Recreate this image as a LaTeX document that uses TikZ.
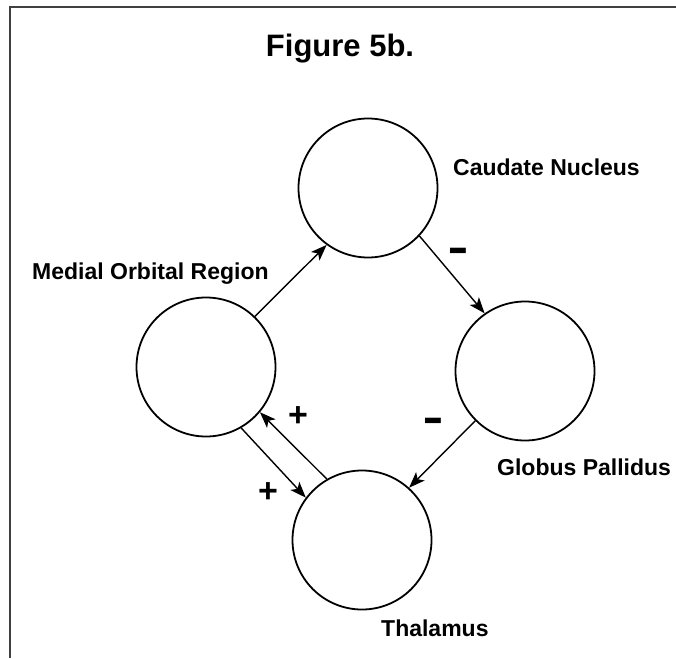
\documentclass[tikz,border=0pt]{standalone}
\usepackage{fontspec}
\setmainfont{Liberation Sans}
\usetikzlibrary{arrows.meta}

\begin{document}
\begin{tikzpicture}[x=1pt, y=-1pt,
  region/.style={circle, draw, line width=1.8pt, minimum size=139pt, inner sep=0pt},
  lbl/.style={anchor=base west, inner sep=0pt, font=\fontsize{23}{27}\selectfont\bfseries},
  plussgn/.style={inner sep=0pt, font=\fontsize{34}{36}\selectfont\bfseries},
  minussgn/.style={inner sep=0pt, yscale=1.7, transform shape, font=\fontsize{32}{34}\selectfont\bfseries},
  link/.style={line width=1.4pt, -{Stealth[length=16pt, width=12pt, inset=4pt]}}]
\useasboundingbox (0,0) rectangle (676,658);
\draw[line width=2pt, black!75] (10,658) -- (10,7) -- (676,7);
\node[anchor=base, inner sep=0pt, font=\fontsize{31}{35}\selectfont\bfseries] (title) at (340,57) {Figure 5b.};
% the four regions
\node[region] (caudate) at (368,188) {};
\node[region] (medial) at (206,367) {};
\node[region] (globus) at (525,371) {};
\node[region] (thalamus) at (362,540) {};
\node[lbl] (caudatelbl) at (453,175) {Caudate Nucleus};
\node[lbl] (mediallbl) at (32,279) {Medial Orbital Region};
\node[lbl] (globuslbl) at (497,475) {Globus Pallidus};
\node[lbl] (thalamuslbl) at (381,636) {Thalamus};
% connections
\draw[link] (medial.46) -- (caudate.234);
\draw[link] (caudate.317) -- (globus.125);
\draw[link] (globus.225) -- (thalamus.48);
\draw[link] (thalamus.120) -- (medial.320);
\draw[link] (medial.300) -- (thalamus.143);
% signs
\node[minussgn] (minusa) at (458,257) {--};
\node[minussgn] (minusb) at (433,427) {--};
\node[plussgn] (plusa) at (298,417) {+};
\node[plussgn] (plusb) at (268,493) {+};
\end{tikzpicture}
\end{document}
